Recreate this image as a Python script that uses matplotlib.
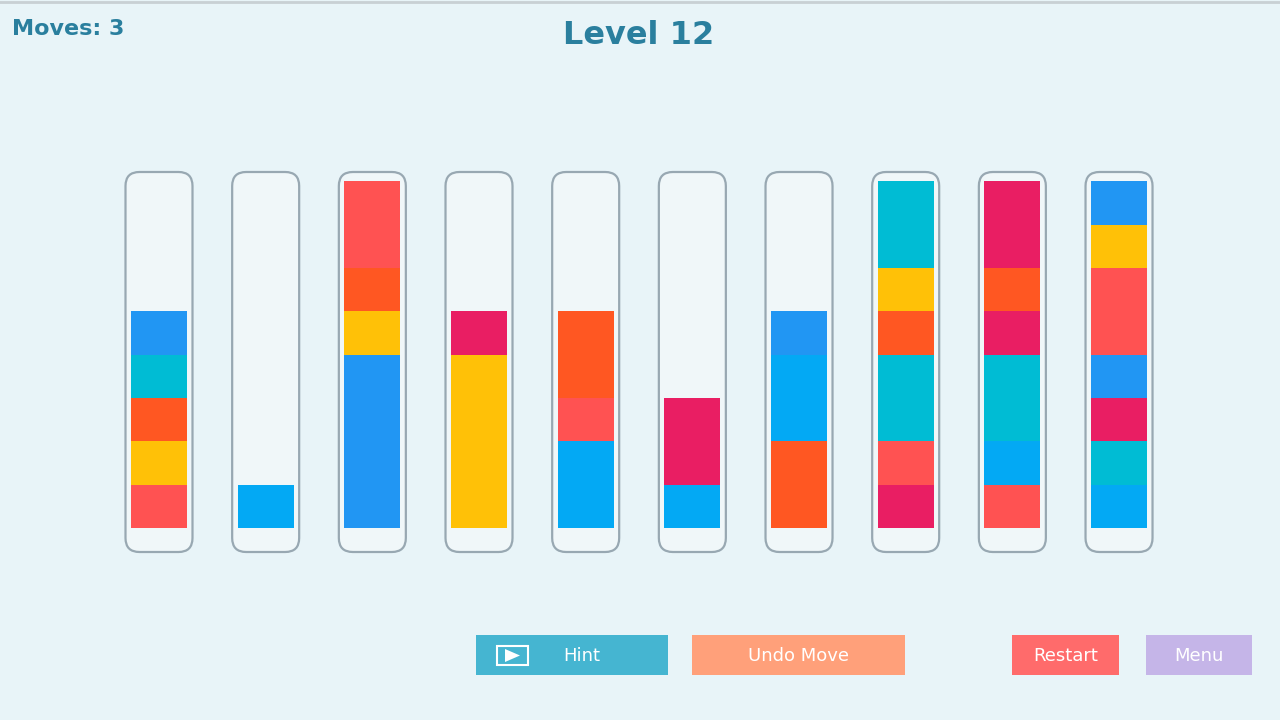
import matplotlib
matplotlib.use("Agg")
import matplotlib.pyplot as plt
from matplotlib.patches import FancyBboxPatch, Rectangle

COL = {"red": "#FF5252", "yellow": "#FFC107", "orange": "#FF5722", "teal": "#00BCD4",
       "blue": "#2196F3", "lblue": "#03A9F4", "pink": "#E91E63"}
# each tube listed bottom -> top, one entry per unit
tubes = [
    ["red", "yellow", "orange", "teal", "blue"],
    ["lblue"],
    ["blue", "blue", "blue", "blue", "yellow", "orange", "red", "red"],
    ["yellow", "yellow", "yellow", "yellow", "pink"],
    ["lblue", "lblue", "red", "orange", "orange"],
    ["lblue", "pink", "pink"],
    ["orange", "orange", "lblue", "lblue", "blue"],
    ["pink", "red", "teal", "teal", "orange", "yellow", "teal", "teal"],
    ["red", "lblue", "teal", "teal", "pink", "orange", "pink", "pink"],
    ["lblue", "teal", "pink", "blue", "red", "red", "yellow", "blue"],
]
title = "Level 12"
moves = "Moves: 3"
buttons = [("Hint", "#45B5D1"), ("Undo Move", "#FFA07A"), ("Restart", "#FF6B6B"), ("Menu", "#C5B5E8")]

fig = plt.figure(figsize=(12.8, 7.2), dpi=100)
fig.patch.set_facecolor("#E8F4F8")
# pixel overlay axes
px = fig.add_axes([0, 0, 1, 1])
px.set_xlim(0, 1280); px.set_ylim(720, 0); px.axis("off")
px.plot([0, 1280], [2, 2], color="#C8D0D4", lw=2)

pitch, unit = 106.67, 43.33
x0, y0 = 159, 528
for i in range(len(tubes)):
    cx = x0 + i * pitch
    px.add_patch(FancyBboxPatch((cx - 33.5, 172), 67, 380, boxstyle="round,pad=0,rounding_size=14",
                                fc="#F0F7F9", ec="#98A8B2", lw=1.6, zorder=1))

# data axes for liquid
ax = fig.add_axes([0, 0, 1, 1], zorder=2)
ax.patch.set_alpha(0)
ax.set_xlim(-x0 / pitch, (1280 - x0) / pitch)
ax.set_ylim(-(720 - y0) / unit, y0 / unit)
ax.axis("off")
for i, t in enumerate(tubes):
    for j, c in enumerate(t):
        ax.bar(i, 1, bottom=j, width=56 / pitch, color=COL[c], linewidth=0)

fig.text(639 / 1280, 1 - 36 / 720, title, ha="center", va="center", fontsize=23,
         fontweight="bold", color="#2A7F9E", family="Arial" if False else "DejaVu Sans")
fig.text(12 / 1280, 1 - 29 / 720, moves, ha="left", va="center", fontsize=16,
         fontweight="bold", color="#2A7F9E")

bx = [(476, 668), (692, 905), (1012, 1119), (1146, 1252)]
top = fig.add_axes([0, 0, 1, 1], zorder=3)
top.set_xlim(0, 1280); top.set_ylim(720, 0); top.axis("off")
for (l, r), (lab, c) in zip(bx, buttons):
    top.add_patch(Rectangle((l, 635), r - l, 40, fc=c, ec="none"))
    tx = (l + r) / 2 + (10 if lab == "Hint" else 0)
    top.text(tx, 656, lab, ha="center", va="center", fontsize=13, color="white")
top.add_patch(Rectangle((497, 646), 31, 19, fc="none", ec="white", lw=1.5))
top.add_patch(plt.Polygon([[505, 649], [505, 662], [520, 655.5]], fc="white", ec="none"))

fig.savefig("out.png", dpi=100, facecolor=fig.get_facecolor())
